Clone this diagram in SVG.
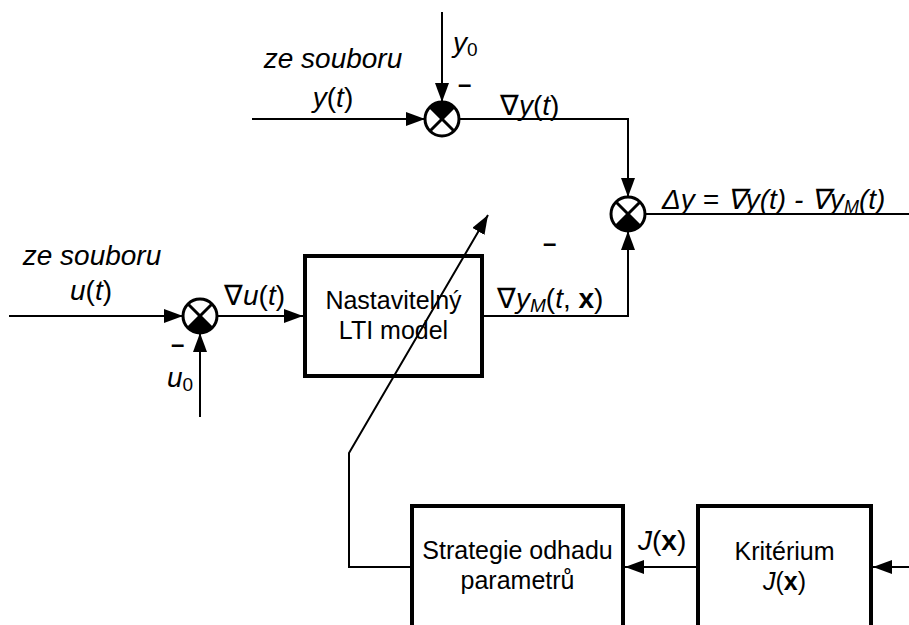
<svg xmlns="http://www.w3.org/2000/svg" width="909" height="625" viewBox="0 0 909 625">
<style>
.bg{fill:#fff}
.box{fill:#fff;stroke:#000;stroke-width:4}
.sum{fill:#fff;stroke:#000;stroke-width:3}
.x{stroke:#000;stroke-width:3}
.q{fill:#000}
.ln{fill:none;stroke:#000;stroke-width:2}
.ar{fill:none;stroke:#000;stroke-width:2;marker-end:url(#ah)}
.bt{font-family:"Liberation Sans",Arial,sans-serif;font-size:25px;fill:#000;text-anchor:middle}
.lb{font-family:"Liberation Sans",Arial,sans-serif;font-size:28px;fill:#000}
.it{font-style:italic}
.b{font-weight:bold;font-style:normal}
.up{font-style:normal}
.mn{font-family:"Liberation Sans",Arial,sans-serif;font-size:24px;font-weight:bold;fill:#000}
</style>
<defs>
<marker id="ah" markerUnits="userSpaceOnUse" markerWidth="19" markerHeight="14" refX="19" refY="7" orient="auto">
<path d="M0,0 L19,7 L0,14 Z" fill="#000"/>
</marker>
</defs>
<rect class="bg" x="0" y="0" width="909" height="625"/>

<g id="sum-y">
<circle class="sum" cx="442" cy="119" r="17"/>
<path class="q" d="M442,119 L430,107 A17,17 0 0 1 454,107 Z"/>
<line class="x" x1="430" y1="107" x2="454" y2="131"/>
<line class="x" x1="454" y1="107" x2="430" y2="131"/>
</g>
<g id="sum-u">
<circle class="sum" cx="200" cy="316" r="17"/>
<path class="q" d="M200,316 L188,328 A17,17 0 0 0 212,328 Z"/>
<line class="x" x1="188" y1="304" x2="212" y2="328"/>
<line class="x" x1="212" y1="304" x2="188" y2="328"/>
</g>
<g id="sum-d">
<circle class="sum" cx="628" cy="214" r="17"/>
<path class="q" d="M628,214 L616,226 A17,17 0 0 0 640,226 Z"/>
<line class="x" x1="616" y1="202" x2="640" y2="226"/>
<line class="x" x1="640" y1="202" x2="616" y2="226"/>
</g>
<g id="model">
<rect class="box" x="305" y="256" width="177" height="120"/>
<text class="bt" x="393.5" y="309">Nastavitelný</text>
<text class="bt" x="393.5" y="339">LTI model</text>
</g>
<g id="strategie">
<rect class="box" x="412" y="506" width="211" height="140"/>
<text class="bt" x="517.5" y="559">Strategie odhadu</text>
<text class="bt" x="517.5" y="589">parametrů</text>
</g>
<g id="kriterium">
<rect class="box" x="698" y="506" width="173" height="140"/>
<text class="bt" x="784.5" y="560">Kritérium</text>
<text class="bt" x="784.5" y="590"><tspan class="it">J</tspan>(<tspan class="b">x</tspan>)</text>
</g>

<g id="connectors">
<line class="ar" x1="442" y1="12" x2="442" y2="102"/>
<line class="ar" x1="252" y1="119" x2="425" y2="119"/>
<polyline class="ar" points="459,119 628,119 628,197"/>
<line class="ln" x1="645" y1="214" x2="909" y2="214"/>
<line class="ar" x1="9" y1="316" x2="183" y2="316"/>
<line class="ar" x1="200" y1="417" x2="200" y2="333"/>
<line class="ar" x1="217" y1="316" x2="303" y2="316"/>
<polyline class="ar" points="484,316 628,316 628,231"/>
<polyline class="ar" points="410,567 349,567 349,453 488,215"/>
<line class="ar" x1="696" y1="567" x2="625" y2="567"/>
<line class="ar" x1="909" y1="567" x2="873" y2="567"/>
</g>

<g id="labels">
<text class="lb it" x="333" y="68" text-anchor="middle">ze souboru</text>
<text class="lb" x="333" y="107" text-anchor="middle"><tspan class="it">y</tspan>(<tspan class="it">t</tspan>)</text>
<text class="lb it" x="453" y="52">y<tspan class="up" font-size="19" dy="4">0</tspan></text>
<text class="mn" x="458" y="92">–</text>
<text class="lb" x="500" y="115">∇<tspan class="it">y</tspan>(<tspan class="it">t</tspan>)</text>
<text class="lb it" x="662" y="209" font-size="25.5">Δy = ∇y(t) - ∇y<tspan font-size="18" dy="4">M</tspan><tspan dy="-4">(t)</tspan></text>
<text class="mn" x="543" y="251">–</text>
<text class="lb it" x="92" y="265" text-anchor="middle">ze souboru</text>
<text class="lb" x="91" y="300" text-anchor="middle"><tspan class="it">u</tspan>(<tspan class="it">t</tspan>)</text>
<text class="lb" x="224" y="305">∇<tspan class="it">u</tspan>(<tspan class="it">t</tspan>)</text>
<text class="mn" x="171" y="352">–</text>
<text class="lb it" x="167" y="387">u<tspan class="up" font-size="19" dy="4">0</tspan></text>
<text class="lb" x="497" y="308">∇<tspan class="it">y</tspan><tspan class="it" font-size="19" dy="4">M</tspan><tspan dy="-4">(</tspan><tspan class="it">t</tspan>, <tspan class="b">x</tspan>)</text>
<text class="lb" x="638" y="550"><tspan class="it">J</tspan>(<tspan class="b">x</tspan>)</text>
</g>
</svg>
